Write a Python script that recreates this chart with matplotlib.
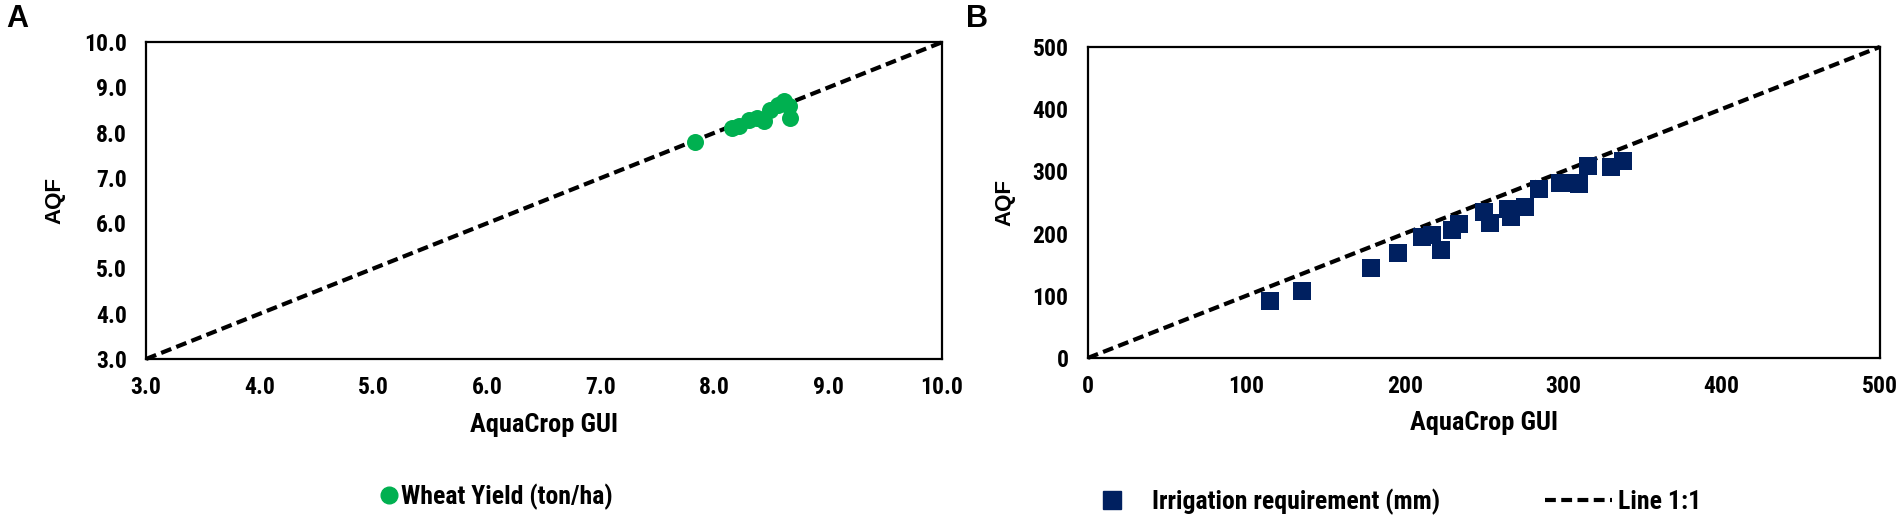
import matplotlib
matplotlib.use("Agg")
import matplotlib.pyplot as plt
from matplotlib.lines import Line2D
from matplotlib import font_manager

# Panel A: wheat yield (ton/ha)
yield_gui = [7.83, 8.15, 8.21, 8.30, 8.37, 8.43, 8.49, 8.56, 8.61, 8.65, 8.66]
yield_aqf = [7.79, 8.10, 8.14, 8.29, 8.33, 8.25, 8.51, 8.62, 8.69, 8.58, 8.33]
yield_ticks = [3.0, 4.0, 5.0, 6.0, 7.0, 8.0, 9.0, 10.0]

# Panel B: irrigation requirement (mm)
irr_gui = [115, 135, 179, 196, 211, 217, 223, 230, 234, 250, 254,
           265, 267, 276, 285, 298, 305, 310, 316, 330, 338]
irr_aqf = [92, 108, 145, 168, 194, 198, 173, 206, 215, 235, 217,
           239, 226, 243, 272, 282, 281, 280, 309, 307, 317]
irr_ticks = [0, 100, 200, 300, 400, 500]

GREEN = "#00b050"
NAVY = "#002060"

# pick a narrow font, something close to Calibri if we can find one
names = {f.name for f in font_manager.fontManager.ttflist}
stretch = "normal"
narrow = None
for cand in ["Liberation Sans Narrow", "Roboto Condensed", "Open Sans Condensed", "Noto Sans Condensed"]:
    if cand in names:
        narrow = cand
        break
if narrow is None:
    narrow = "DejaVu Sans"
    if any(f.name == "DejaVu Sans" and f.stretch == "condensed" for f in font_manager.fontManager.ttflist):
        stretch = "condensed"
wide = ["Liberation Sans", "DejaVu Sans"]

def nfont(size):
    return dict(family=[narrow, "DejaVu Sans"], fontsize=size, fontweight="bold", fontstretch=stretch)

DASH = (2.6, 1.3)
fig = plt.figure(figsize=(19.02, 5.21), dpi=100)

def style_axes(ax, ticks, fmt, ylab_x):
    ax.set_xlim(ticks[0], ticks[-1])
    ax.set_ylim(ticks[0], ticks[-1])
    ax.set_xticks(ticks)
    ax.set_yticks(ticks)
    ax.set_xticklabels([fmt(t) for t in ticks], **nfont(17))
    ax.set_yticklabels([fmt(t) for t in ticks], **nfont(17))
    ax.tick_params(axis="x", length=0, pad=12)
    ax.tick_params(axis="y", length=0, pad=14)
    for s in ax.spines.values():
        s.set_linewidth(1.6)
        s.set_color("black")
    ax.set_xlabel("AquaCrop GUI", labelpad=10, **nfont(19))
    ax.set_ylabel("AQF", family=wide, fontsize=16, fontweight="bold")
    ax.yaxis.set_label_coords(ylab_x, 0.5)
    ax.yaxis.label.set_verticalalignment("center")
    # 1:1 line
    ax.plot([ticks[0], ticks[-1]], [ticks[0], ticks[-1]], color="black", lw=3,
            dashes=DASH, zorder=2, clip_on=False)

axA = fig.add_axes([0.0768, 0.311, 0.4185, 0.608])
style_axes(axA, yield_ticks, lambda t: f"{t:.1f}", -0.114)
axA.scatter(yield_gui, yield_aqf, s=150, color=GREEN, marker="o", zorder=3, linewidths=0)

axB = fig.add_axes([0.572, 0.313, 0.4164, 0.597])
style_axes(axB, irr_ticks, lambda t: f"{t}", -0.105)
axB.scatter(irr_gui, irr_aqf, s=170, color=NAVY, marker="s", zorder=3, linewidths=0)

fig.text(0.0035, 0.963, "A", family=wide, fontsize=22, fontweight="bold", va="center")
fig.text(0.508, 0.963, "B", family=wide, fontsize=22, fontweight="bold", va="center")

leg_prop = font_manager.FontProperties(family=[narrow, "DejaVu Sans"], size=18.5,
                                       weight="bold", stretch=stretch)
leg_kw = dict(loc="center left", frameon=False, prop=leg_prop, borderpad=0, borderaxespad=0)

hA = [Line2D([], [], marker="o", color=GREEN, ls="none", markersize=12)]
fig.legend(hA, ["Wheat Yield (ton/ha)"], bbox_to_anchor=(0.1998, 0.046),
           handletextpad=0.12, handlelength=0.7, **leg_kw)

hB1 = [Line2D([], [], marker="s", color=NAVY, ls="none", markersize=13)]
fig.legend(hB1, ["Irrigation requirement (mm)"], bbox_to_anchor=(0.5799, 0.0365),
           handletextpad=1.2, handlelength=0.7, **leg_kw)

hB2 = [Line2D([], [], color="black", lw=3, dashes=DASH)]
fig.legend(hB2, ["Line 1:1"], bbox_to_anchor=(0.8123, 0.0365),
           handletextpad=0.25, handlelength=2.6, **leg_kw)

fig.savefig("out.png", dpi=100)
